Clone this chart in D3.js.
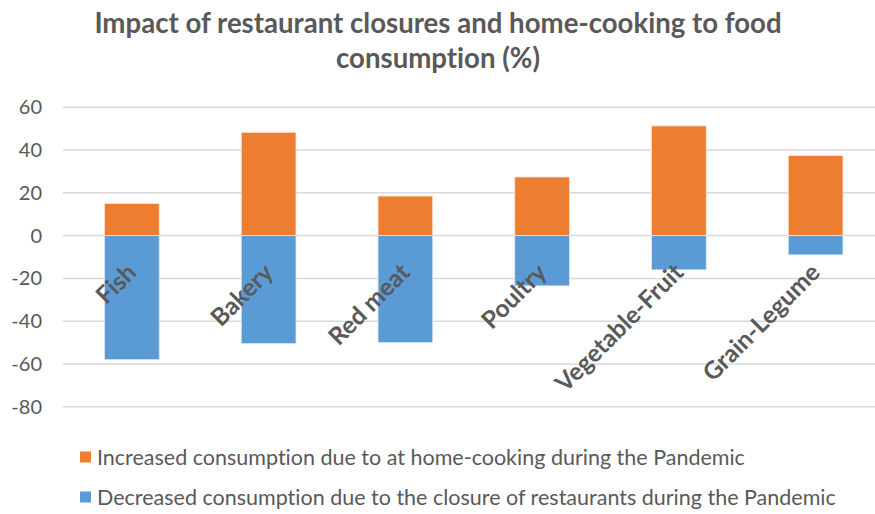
<!DOCTYPE html>
<html><head><meta charset="utf-8">
<script src="https://cdn.jsdelivr.net/npm/d3@7"></script>
<style>body{margin:0;background:#fff}svg{display:block}text{font-variant-ligatures:none}</style>
</head><body>
<svg id="chart" width="875" height="514"></svg>
<script>
const categories = ["Fish","Bakery","Red meat","Poultry","Vegetable-Fruit","Grain-Legume"];
const increased = [15, 48.3, 18.5, 27.4, 51.3, 37.4];
const decreased = [-58, -50.5, -50, -23.5, -16, -9];
const yTicks = [60, 40, 20, 0, -20, -40, -60, -80];
const seriesNames = ["Increased consumption due to at home-cooking during the Pandemic",
  "Decreased consumption due to the closure of restaurants during the Pandemic"];
const colors = ["#ED7D31", "#5B9BD5"];
const titleLines = ["Impact of restaurant closures and home-cooking to food", "consumption (%)"];

const svg = d3.select("#chart");
const font = "Lato, 'Open Sans', sans-serif";
const textColor = "#595959";

const x = d3.scaleBand().domain(categories).range([63.5, 884]).paddingInner(0.6).paddingOuter(0.3);
const y = d3.scaleLinear().domain([-80, 60]).range([406.7, 107.3]);

// title
svg.append("g").selectAll("text").data(titleLines).join("text")
  .attr("x", 438).attr("y", (d,i) => 33 + i*35)
  .attr("text-anchor", "middle")
  .style("font-family", font).style("font-weight", "bold").style("font-size", "27.6px")
  .style("fill", textColor).text(d => d);

// grid
svg.append("g").selectAll("line").data(yTicks).join("line")
  .attr("x1", 63).attr("x2", 884)
  .attr("y1", d => y(d)).attr("y2", d => y(d))
  .attr("stroke", "#d9d9d9").attr("stroke-width", 1.5);

// y axis labels
const yAxis = d3.axisLeft(y).tickValues(yTicks).tickSize(0).tickPadding(0).tickFormat(d => String(d));
const ga = svg.append("g").attr("transform", "translate(42,0)").call(yAxis);
ga.select(".domain").remove();
ga.selectAll("text").style("font-family", font).style("font-size", "20px").style("fill", textColor);

// bars
const bw = x.bandwidth();
svg.append("g").selectAll("rect").data(categories).join("rect")
  .attr("x", d => x(d)).attr("width", bw)
  .attr("y", (d,i) => y(increased[i])).attr("height", (d,i) => y(0) - y(increased[i]))
  .attr("fill", colors[0]).attr("stroke", "#fbe3d3").attr("stroke-width", 0.8);
svg.append("g").selectAll("rect").data(categories).join("rect")
  .attr("x", d => x(d)).attr("width", bw)
  .attr("y", y(0)).attr("height", (d,i) => y(decreased[i]) - y(0))
  .attr("fill", colors[1]).attr("stroke", "#dbe8f5").attr("stroke-width", 0.8);

// category labels
svg.append("g").selectAll("text").data(categories).join("text")
  .attr("transform", d => `translate(${x(d) + bw/2 + 6},${274}) rotate(-45)`)
  .attr("text-anchor", "end")
  .style("font-family", font).style("font-weight", "bold").style("font-size", "24.5px")
  .style("fill", textColor).text(d => d);

// legend
const lg = svg.append("g").selectAll("g").data(seriesNames).join("g")
  .attr("transform", (d,i) => `translate(80,${457 + i*40})`);
lg.append("rect").attr("x", 0).attr("y", -5.5).attr("width", 11).attr("height", 11)
  .attr("fill", (d,i) => colors[i]);
lg.append("text").attr("x", 17).attr("y", 7.5)
  .style("font-family", font).style("font-size", "21.5px").style("fill", textColor)
  .text(d => d);
</script>
</body></html>
